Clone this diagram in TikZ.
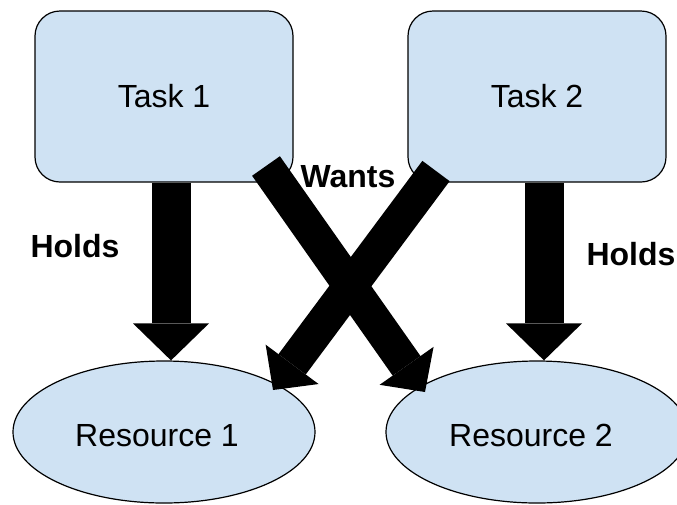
\documentclass[tikz,border=0pt]{standalone}
\usepackage{fontspec}
\setmainfont{Liberation Sans}
\usetikzlibrary{arrows.meta,shapes.geometric}
\definecolor{boxblue}{HTML}{CFE2F3}
\begin{document}
\begin{tikzpicture}[x=1pt,y=-1pt,
  bigtext/.style={font=\fontsize{32}{38}\selectfont},
  taskbox/.style={draw=black, line width=1.2pt, fill=boxblue, rounded corners=25pt,
    minimum width=258pt, minimum height=171pt, inner sep=0pt, bigtext},
  resell/.style={ellipse, draw=black, line width=1.2pt, fill=boxblue,
    minimum width=302pt, minimum height=142pt, inner sep=0pt},
  restext/.style={bigtext, inner sep=0pt},
  holdarrow/.style={line width=39pt, -{Triangle[length=37pt,width=76pt,line width=0pt]}},
  wantarrow/.style={line width=34pt, -{Triangle[length=32pt,width=66pt,line width=0pt]}},
  lbl/.style={font=\bfseries\fontsize{32}{38}\selectfont, inner sep=0pt, anchor=base}]
\useasboundingbox (0,0) rectangle (677,504);
\node[taskbox] (t1) at (164,96.5) {Task 1};
\node[taskbox] (t2) at (537,96.5) {Task 2};
\node[resell, label={[restext, xshift=-7pt, yshift=-3.5pt]center:Resource 1}] (r1) at (164,432) {};
\node[resell, label={[restext, xshift=-6pt, yshift=-3.5pt]center:Resource 2}] (r2) at (537,432) {};
\coordinate (w1s) at (266,166);
\coordinate (w1e) at (425,392);
\coordinate (w2s) at (436,171);
\coordinate (w2e) at (273,390);
\draw[holdarrow] ([xshift=7pt]t1.south) -- ([xshift=7pt]t1.south |- r1.north);
\draw[holdarrow] ([xshift=7pt]t2.south) -- ([xshift=7pt]t2.south |- r2.north);
\draw[wantarrow] (w1s) -- (w1e);
\draw[wantarrow] (w2s) -- (w2e);
\node[lbl] (hl) at (75,257) {Holds};
\node[lbl] (hr) at (631,265) {Holds};
\node[lbl] (wl) at (348,187) {Wants};
\end{tikzpicture}
\end{document}
